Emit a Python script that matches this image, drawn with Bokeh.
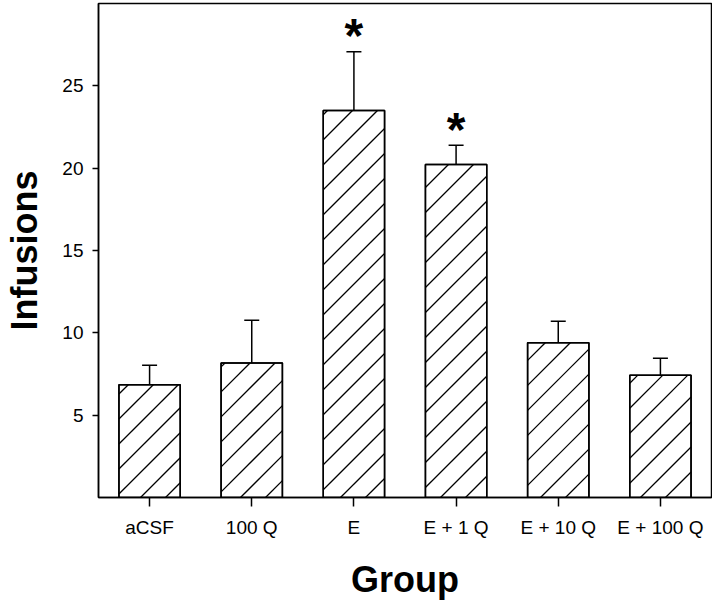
import math
from bokeh.plotting import figure
from bokeh.models import ColumnDataSource, Range1d, FixedTicker, Whisker, TeeHead
from bokeh.core.properties import value
from bokeh.embed import file_html
from bokeh.resources import INLINE

categories = ["aCSF", "100 Q", "E", "E + 1 Q", "E + 10 Q", "E + 100 Q"]
means = [6.85, 8.17, 23.5, 20.22, 9.40, 7.43]
sem = [1.18, 2.60, 3.57, 1.17, 1.30, 1.02]
sig = ["", "", "*", "*", "", ""]
y_ticks = [5, 10, 15, 20, 25]

# layout / style constants
W, H = 712, 603
BL, BR, BT, BB = 98, 1, 3, 106
BAR_W = 0.6
Y_MAX = 30
HATCH_SPACING = 25  # px, vertical distance between 45-degree hatch lines
FONT = "Liberation Sans"

xpos = [i + 0.5 for i in range(len(categories))]
upper = [m + s for m, s in zip(means, sem)]
src = ColumnDataSource(dict(x=xpos, means=means, upper=upper, sig=sig))

# 45-degree hatch lines, clipped to each bar (computed from the bar values)
frame_w = W - BL - BR
frame_h = H - BT - BB
kx = frame_w / len(categories)
ky = frame_h / Y_MAX
hx0, hy0, hx1, hy1 = [], [], [], []
for xc, top in zip(xpos, means):
    A = (xc - BAR_W / 2) * kx
    B = (xc + BAR_W / 2) * kx
    T = top * ky
    k0 = math.floor(-B / HATCH_SPACING)
    k1 = math.ceil((T - A) / HATCH_SPACING)
    for k in range(k0, k1 + 1):
        c = k * HATCH_SPACING + 8
        lo = max(0.0, A + c)
        hi = min(T, B + c)
        if hi - lo > 0.5:
            hx0.append((lo - c) / kx); hy0.append(lo / ky)
            hx1.append((hi - c) / kx); hy1.append(hi / ky)
hatch_src = ColumnDataSource(dict(x0=hx0, y0=hy0, x1=hx1, y1=hy1))

p = figure(x_range=Range1d(0, len(categories)), y_range=Range1d(0, Y_MAX),
           width=W, height=H, output_backend="svg", toolbar_location=None,
           min_border_left=BL, min_border_right=BR, min_border_top=BT, min_border_bottom=BB)

p.vbar(x="x", top="means", width=BAR_W, source=src, fill_color="white",
       line_color="black", line_width=1.5)
p.segment(x0="x0", y0="y0", x1="x1", y1="y1", source=hatch_src,
          line_color="black", line_width=1.3)
p.vbar(x="x", top="means", width=BAR_W, source=src, fill_color=None,
       line_color="black", line_width=1.5)

wh = Whisker(base="x", upper="upper", lower="means", source=src,
             upper_head=TeeHead(size=15, line_width=1.5, line_color="black"),
             lower_head=None, line_width=1.5, line_color="black")
p.add_layout(wh)

p.text(x="x", y="upper", text="sig", source=src, text_align="center",
       text_baseline="alphabetic", text_font=value(FONT), text_font_style="bold",
       text_font_size="48px", text_color="black", y_offset=-16)

p.xgrid.visible = False
p.ygrid.visible = False
p.outline_line_color = "black"
p.outline_line_width = 1.5
p.background_fill_color = "white"
p.border_fill_color = "white"

p.yaxis.ticker = FixedTicker(ticks=y_ticks)
p.yaxis.major_tick_out = 6
p.yaxis.major_label_standoff = 9
p.yaxis.axis_label = "Infusions"
p.yaxis.axis_label_standoff = 14

p.xaxis.ticker = FixedTicker(ticks=xpos)
p.xaxis.major_label_overrides = {x: c for x, c in zip(xpos, categories)}
p.xaxis.major_tick_out = 9
p.xaxis.major_label_standoff = 10
p.xaxis.axis_label = "Group"
p.xaxis.axis_label_standoff = 18

for ax in (p.xaxis, p.yaxis):
    ax.major_tick_in = 0
    ax.minor_tick_line_color = None
    ax.axis_line_width = 1.5
    ax.axis_line_color = "black"
    ax.major_tick_line_width = 1.5
    ax.major_tick_line_color = "black"
    ax.major_label_text_font = FONT
    ax.major_label_text_font_size = "19px"
    ax.major_label_text_color = "black"
    ax.axis_label_text_font = FONT
    ax.axis_label_text_font_style = "bold"
    ax.axis_label_text_font_size = "36px"
    ax.axis_label_text_color = "black"

open("out.html", "w").write(file_html(p, INLINE))
